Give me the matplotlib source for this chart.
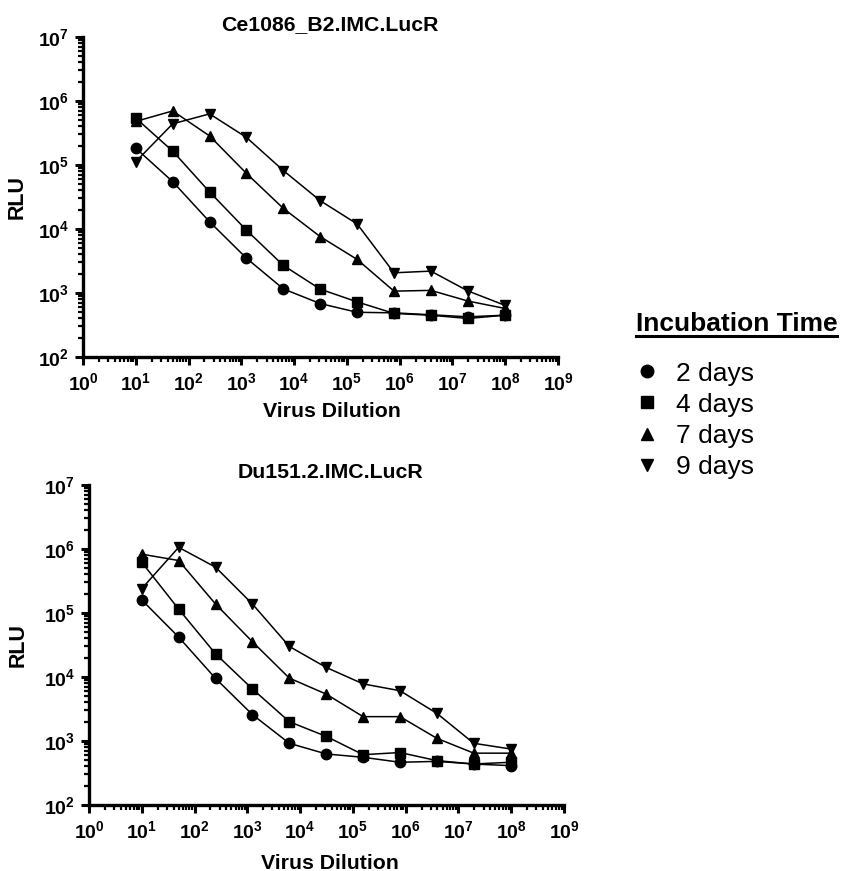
import math
import matplotlib
matplotlib.use('Agg')
import matplotlib.pyplot as plt
from matplotlib.lines import Line2D
from matplotlib.ticker import LogLocator, FixedLocator, FuncFormatter, NullFormatter

plt.rcParams['font.family'] = ['Liberation Sans', 'DejaVu Sans']
plt.rcParams['mathtext.fontset'] = 'custom'
plt.rcParams['mathtext.rm'] = 'Liberation Sans:bold'
plt.rcParams['mathtext.it'] = 'Liberation Sans:bold'
plt.rcParams['mathtext.bf'] = 'Liberation Sans:bold'

# 5-fold virus dilution series
dilution = [10, 50, 250, 1250, 6250, 31250, 156250, 781250, 3906250, 19531250, 97656250]
labels = ['2 days', '4 days', '7 days', '9 days']
markers = ['o', 's', '^', 'v']

ce1086_2d = [1.83e5, 5.5e4, 1.3e4, 3.5e3, 1.16e3, 684, 500, 490, 457, 425, 450]
ce1086_4d = [5.4e5, 1.65e5, 3.8e4, 9.6e3, 2.7e3, 1.15e3, 727, 480, 450, 400, 450]
ce1086_7d = [4.8e5, 7.0e5, 2.85e5, 7.4e4, 2.1e4, 7.6e3, 3.35e3, 1.07e3, 1.1e3, 750, 575]
ce1086_9d = [1.13e5, 4.4e5, 6.3e5, 2.7e5, 8.2e4, 2.77e4, 1.2e4, 2.07e3, 2.2e3, 1.08e3, 645]

du151_2d = [1.6e5, 4.2e4, 9.5e3, 2.58e3, 920, 627, 556, 465, 480, 436, 412]
du151_4d = [6.2e5, 1.15e5, 2.3e4, 6.5e3, 2.0e3, 1.18e3, 611, 660, 493, 437, 465]
du151_7d = [8.3e5, 6.6e5, 1.38e5, 3.55e4, 9.6e3, 5.4e3, 2.4e3, 2.4e3, 1.1e3, 645, 645]
du151_9d = [2.4e5, 1.06e6, 5.2e5, 1.38e5, 3.0e4, 1.41e4, 7.8e3, 6.1e3, 2.7e3, 920, 750]


def pow10(v, pos):
    return r'$10^{%d}$' % round(math.log10(v))


def panel(ax, title, series, title_x, xlab, ylab_x):
    for ys, m, lab in zip(series, markers, labels):
        ax.plot(dilution, ys, color='black', lw=1.1, marker=m, markersize=7.5,
                markerfacecolor='black', markeredgecolor='black', label=lab)
    ax.set_xscale('log')
    ax.set_yscale('log')
    ax.set_xlim(1, 1e9)
    ax.set_ylim(1e2, 1e7)
    ax.xaxis.set_major_locator(FixedLocator([10.0 ** k for k in range(0, 10)]))
    ax.yaxis.set_major_locator(FixedLocator([10.0 ** k for k in range(2, 8)]))
    ax.xaxis.set_minor_locator(LogLocator(base=10, subs=range(2, 10), numticks=20))
    ax.yaxis.set_minor_locator(LogLocator(base=10, subs=range(2, 10), numticks=20))
    ax.xaxis.set_major_formatter(FuncFormatter(pow10))
    ax.yaxis.set_major_formatter(FuncFormatter(pow10))
    ax.xaxis.set_minor_formatter(NullFormatter())
    ax.yaxis.set_minor_formatter(NullFormatter())
    for s in ['top', 'right']:
        ax.spines[s].set_visible(False)
    for s in ['left', 'bottom']:
        ax.spines[s].set_linewidth(2.4)
    ax.tick_params(which='major', direction='out', length=6, width=2.2, labelsize=14)
    ax.tick_params(axis='x', which='major', pad=5)
    ax.tick_params(axis='y', which='major', pad=4)
    ax.tick_params(which='minor', direction='out', length=3.5, width=1.6)
    ax.set_title(title, fontsize=15.3, fontweight='bold', pad=5, x=title_x)
    ax.set_xlabel('Virus Dilution', fontsize=15.3, fontweight='bold')
    ax.set_ylabel('RLU', fontsize=15.5, fontweight='bold')
    ax.xaxis.set_label_coords(xlab[0], xlab[1])
    ax.yaxis.set_label_coords(ylab_x, 0.5)


fig = plt.figure(figsize=(8.41, 8.71), dpi=100)
ax1 = fig.add_axes([0.0987, 0.5901, 0.5648, 0.3674])
ax2 = fig.add_axes([0.1058, 0.0758, 0.5648, 0.3674])

panel(ax1, 'Ce1086_B2.IMC.LucR', [ce1086_2d, ce1086_4d, ce1086_7d, ce1086_9d],
      0.52, (0.524, -0.14), -0.116)
panel(ax2, 'Du151.2.IMC.LucR', [du151_2d, du151_4d, du151_7d, du151_9d],
      0.508, (0.508, -0.152), -0.128)

# legend title with underline
title = fig.text(0.756, 0.620, 'Incubation Time', fontsize=19, fontweight='bold',
                 ha='left', va='baseline')
fig.canvas.draw()
bb = title.get_window_extent(renderer=fig.canvas.get_renderer()).transformed(fig.transFigure.inverted())
fig.add_artist(Line2D([bb.x0, bb.x1], [0.6142, 0.6142], color='black', lw=2.2,
                      transform=fig.transFigure))

handles = [Line2D([], [], ls='none', marker=m, color='black', markersize=9) for m in markers]
fig.legend(handles, labels, loc='upper left', bbox_to_anchor=(0.741, 0.597),
           frameon=False, fontsize=19, handlelength=1.0, handletextpad=0.6,
           labelspacing=0.27, borderaxespad=0)

fig.savefig('out.png', dpi=100)
